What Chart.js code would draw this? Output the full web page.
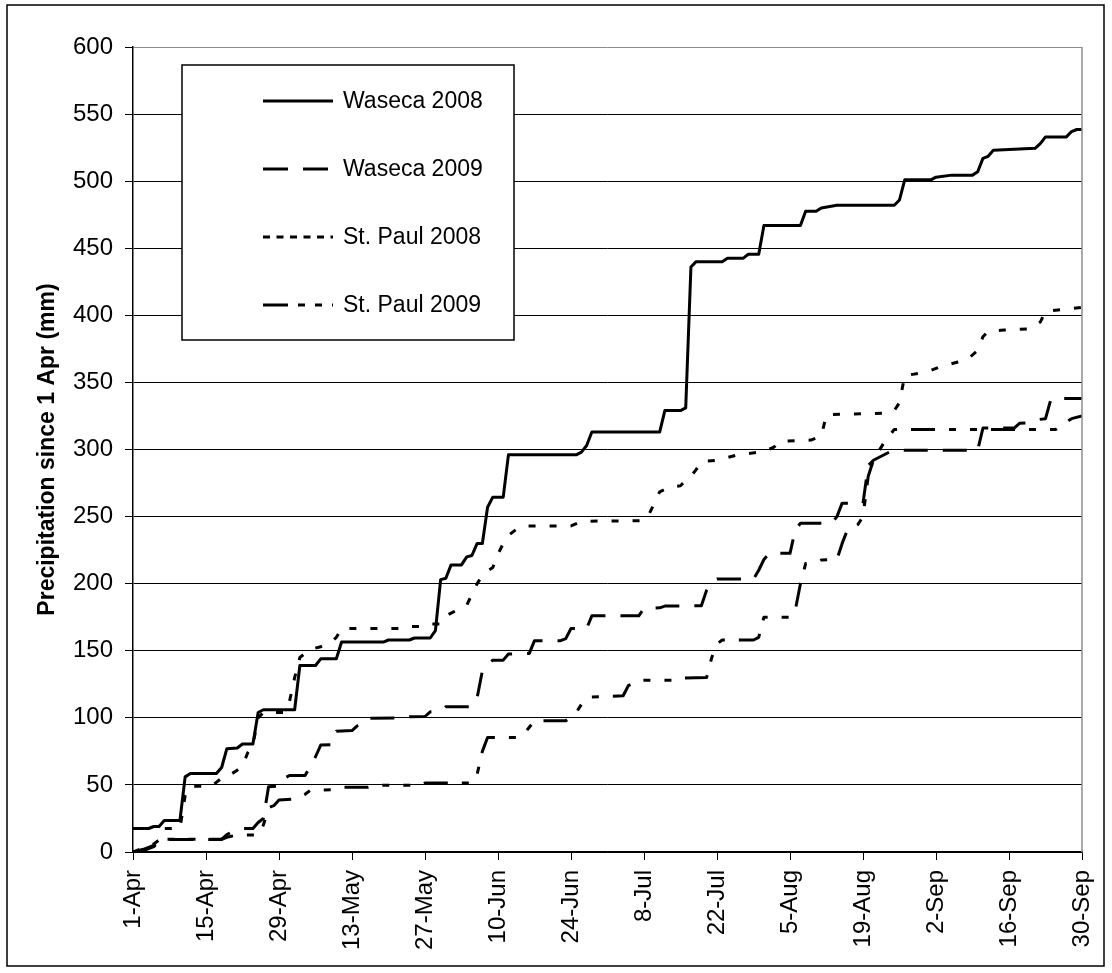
<!DOCTYPE html>
<html>
<head>
<meta charset="utf-8">
<script src="https://cdn.jsdelivr.net/npm/chart.js@4.4.1/dist/chart.umd.min.js"></script>
<style>
  html, body { margin: 0; padding: 0; background: #fff; }
  #wrap { width: 1112px; height: 973px; }
</style>
</head>
<body>
<div id="wrap"><canvas id="c" width="1112" height="973"></canvas></div>
<script>
// Days since 1 April (day 0) and the date labels shown every two weeks
const tickDays = [0, 14, 28, 42, 56, 70, 84, 98, 112, 126, 140, 154, 168, 182];
const tickLabels = ['1-Apr', '15-Apr', '29-Apr', '13-May', '27-May', '10-Jun', '24-Jun',
                    '8-Jul', '22-Jul', '5-Aug', '19-Aug', '2-Sep', '16-Sep', '30-Sep'];

// Cumulative precipitation (mm), as [day, total] pairs
const waseca2008 = [[0,17.5],[3,17.5],[4,19],[5,19],[6,23.5],[9,23.5],[10,56],[11,58.5],[16,58.5],[17,63],
  [18,77],[20,77.5],[21,80.5],[23,80.5],[24,104],[25,106],[31,106],[32,139],[35,139],[36,144],[39,144],
  [40,156.5],[48,156.5],[49,158],[53,158],[54,159.5],[57,159.5],[58,165],[59,203],[60,204],[61,214],[63,214],
  [64,220],[65,221],[66,230],[67,230],[68,257],[69,264.5],[71,264.5],[72,296],[85,296],[86,298],[87,303],
  [88,313],[101,313],[102,329],[105,329],[106,331],[107,436],[108,440],[113,440],[114,442.5],[117,442.5],
  [118,445.5],[120,445.5],[121,467],[128,467],[129,477.5],[131,477.5],[132,480],[135,482],[146,482],
  [147,486],[148,501],[153,501],[154,503],[157,504.5],[161,504.5],[162,507],[163,517],[164,518.5],
  [165,523],[173,524.5],[174,528],[175,533],[179,533],[180,537],[181,538.5],[182,538.5]];

const waseca2009 = [[0,0],[2,2],[4,5],[5,8],[6,9.4],[17,9.4],[18,13],[19,15],[21,17.6],[23,17.6],[24,22],
  [25,25],[26,48.7],[28,49],[29,55],[30,57],[33,57],[34,64],[35,71],[36,79.7],[38,80],[39,90],[42,90.5],
  [43,94],[44,95],[45,99.6],[52,100],[53,100.8],[56,101],[57,104.5],[59,105],[60,108.3],[65,108.3],
  [66,115],[67,135],[68,140],[69,143],[71,143],[72,147.5],[76,148],[77,157.5],[82,157.5],[83,159],
  [84,166.6],[87,166.6],[88,176],[97,176],[98,181.5],[101,182],[102,183.3],[109,183.5],[110,195],
  [111,201],[112,203.4],[119,203.4],[120,210],[121,218],[122,222.6],[126,222.6],[127,240],[128,245],
  [134,245],[135,250],[136,260],[140,260],[141,288],[142,292],[145,298],[147,299.5],[162,299.5],
  [163,316],[169,316],[170,319.5],[172,320],[173,322],[175,323],[176,337],[177,338],[182,338]];

const stPaul2008 = [[0,0],[2,3],[4,6],[5,9],[6,17.5],[9,17.5],[10,42],[11,49],[15,49],[17,55],[18,56],
  [20,61],[21,64],[22,74],[23,80],[24,100],[25,104],[29,104],[30,112],[31,130],[32,145],[34,151],
  [36,153],[38,156.5],[39,160],[40,166.5],[52,166.5],[53,168],[56,168],[57,170],[59,170],[60,176],
  [61,178],[64,184],[65,192],[66,200],[67,206],[68,209.5],[69,212],[70,222],[71,230],[72,236],
  [74,242],[75,243],[84,243],[86,246.5],[98,247],[99,252],[100,260],[101,268.5],[103,272],[105,273],
  [106,277],[107,280],[108,285],[109,291],[112,292],[114,294],[116,296],[118,297],[121,298.5],
  [123,302],[124,306],[130,307],[132,310],[133,326],[144,327],[146,329],[147,335],[148,355],[151,357],
  [153,359],[155,362],[158,365],[160,367],[162,374],[163,384],[164,388],[167,389],[172,390],[174,395],
  [175,403],[180,405],[182,406]];

const stPaul2009 = [[0,0],[2,1],[4,4],[5,8],[6,9.5],[17,9.5],[18,11],[20,12.7],[24,12.7],[25,20],
  [26,33],[27,34.5],[28,38.7],[31,39.5],[33,43],[34,46],[38,46.4],[40,48.2],[45,48.2],[47,49.7],
  [55,49.7],[56,51.4],[65,51.4],[66,58],[67,75],[68,85.4],[74,85.4],[75,88],[76,93],[77,97.8],
  [83,97.8],[85,104],[86,110],[87,115],[88,115.5],[94,116.5],[95,124],[97,128],[104,128],[105,129.6],
  [110,130],[111,145],[112,155],[113,158],[119,158],[120,160],[121,175],[126,175],[127,180],[128,200],
  [129,215],[131,216],[132,217.6],[135,218],[136,230],[137,240],[139,244],[140,250],[141,280],
  [142,292],[144,305],[146,315],[177,315],[178,318],[180,323],[182,325]];

const seriesNames = ['Waseca 2008', 'Waseca 2009', 'St. Paul 2008', 'St. Paul 2009'];
const seriesData = [waseca2008, waseca2009, stPaul2008, stPaul2009];
const seriesDash = [[], [24, 15], [7, 14], [24, 14, 7, 14, 7, 14]];
const legendDash = [[], [25, 15], [7, 6.5], [25, 10, 7, 10, 7, 10]];

const FONT = "'Liberation Sans', Arial, sans-serif";

// White page, outer frame, grey right edge of the plot and the boxed key
const framePlugin = {
  id: 'frame',
  beforeDraw(chart) {
    const { ctx, width, height } = chart;
    ctx.save();
    ctx.fillStyle = '#fff';
    ctx.fillRect(0, 0, width, height);
    ctx.strokeStyle = '#000';
    ctx.lineWidth = 1.5;
    ctx.strokeRect(7, 5, width - 15, height - 12);
    ctx.restore();
  },
  afterDatasetsDraw(chart) {
    const { ctx, chartArea } = chart;
    ctx.save();
    ctx.strokeStyle = '#8c8c8c';
    ctx.lineWidth = 1.5;
    ctx.beginPath();
    ctx.moveTo(chartArea.right, chartArea.top);
    ctx.lineTo(chartArea.right, chartArea.bottom);
    ctx.stroke();

    const box = { l: 182, t: 65, r: 514, b: 340 };
    ctx.fillStyle = '#fff';
    ctx.fillRect(box.l, box.t, box.r - box.l, box.b - box.t);
    ctx.strokeStyle = '#000';
    ctx.lineWidth = 1.5;
    ctx.strokeRect(box.l, box.t, box.r - box.l, box.b - box.t);

    ctx.font = '23px ' + FONT;
    ctx.textBaseline = 'middle';
    ctx.textAlign = 'left';
    ctx.fillStyle = '#000';
    seriesNames.forEach((name, i) => {
      const y = 101 + i * 68;
      ctx.setLineDash(legendDash[i]);
      ctx.lineWidth = 3;
      ctx.beginPath();
      ctx.moveTo(263, y);
      ctx.lineTo(333, y);
      ctx.stroke();
      ctx.setLineDash([]);
      ctx.fillText(name, 343, y + 1);
    });
    ctx.restore();
  }
};

const datasets = seriesData.map((pts, i) => ({
  label: seriesNames[i],
  data: pts.map(p => ({ x: p[0], y: p[1] })),
  borderColor: '#000',
  borderWidth: 3,
  borderDash: seriesDash[i],
  borderCapStyle: 'butt',
  borderJoinStyle: 'round',
  pointRadius: 0,
  tension: 0,
  fill: false
}));

new Chart(document.getElementById('c'), {
  type: 'line',
  data: { datasets },
  plugins: [framePlugin],
  options: {
    responsive: false,
    animation: false,
    devicePixelRatio: 1,
    layout: { padding: { left: 0, top: 47, right: 30, bottom: 0 } },
    plugins: { legend: { display: false }, tooltip: { enabled: false } },
    scales: {
      x: {
        type: 'linear',
        min: 0,
        max: 182,
        afterBuildTicks: s => { s.ticks = tickDays.map(v => ({ value: v })); },
        afterFit: s => { s.height = 121; s.paddingLeft = 0; s.paddingRight = 0; },
        ticks: {
          autoSkip: false,
          minRotation: 90,
          maxRotation: 90,
          padding: 10,
          color: '#000',
          font: { family: FONT, size: 24 },
          callback: v => tickLabels[tickDays.indexOf(v)]
        },
        grid: { drawOnChartArea: false, drawTicks: true, tickLength: 8, color: '#000', tickColor: '#000' },
        border: { display: true, color: '#000', width: 1.5 }
      },
      y: {
        min: 0,
        max: 600,
        afterFit: s => { s.width = 133; s.paddingTop = 0; s.paddingBottom = 0; },
        ticks: {
          stepSize: 50,
          padding: 12,
          color: '#000',
          font: { family: FONT, size: 24 }
        },
        grid: {
          drawTicks: true,
          tickLength: 8,
          lineWidth: 1,
          color: c => (c.tick && c.tick.value === 600) ? '#8c8c8c' : '#000',
          tickColor: '#000'
        },
        border: { display: true, color: '#000', width: 1.5 },
        title: {
          display: true,
          text: 'Precipitation since 1 Apr (mm)',
          color: '#000',
          font: { family: FONT, size: 23, weight: 'bold' },
          padding: { top: 34, bottom: 0 }
        }
      }
    }
  }
});
</script>
</body>
</html>
